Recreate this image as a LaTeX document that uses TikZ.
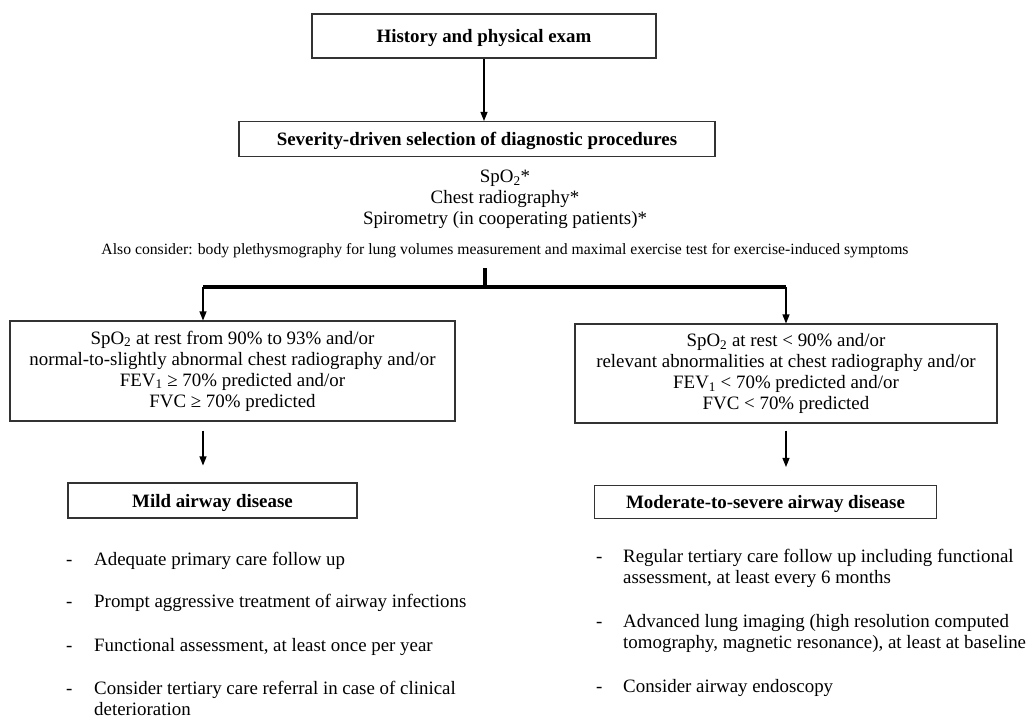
\documentclass[tikz,border=0pt]{standalone}
\usepackage{fontspec}
\setmainfont{Liberation Serif}
\usetikzlibrary{arrows.meta}
\newcommand{\bodyfont}{\fontsize{18.9}{21}\selectfont}
\tikzset{
  box/.style={draw=black!80, line width=1.1pt, inner sep=0pt, align=center,
    execute at begin node={\rule{0pt}{18pt}}},
  arr/.style={-{Triangle[length=9pt,width=7pt]}, line width=1.1pt},
  bar/.style={line width=3.5pt},
  item/.style={anchor=base west, inner sep=0pt, align=left},
}
\begin{document}
\begin{tikzpicture}[x=1pt,y=-1pt,font=\bodyfont]
  \useasboundingbox (0,0) rectangle (1028,718);
  \draw
    (484,36) node[box,minimum width=344,minimum height=44,font=\bodyfont\bfseries] (hist){History and physical exam}
    (477,139) node[box,minimum width=476,minimum height=35,font=\bodyfont\bfseries] (sev){Severity-driven selection of diagnostic procedures}
    (505,199) node[align=center,inner sep=0pt] (tests){SpO\textsubscript{2}*\\Chest radiography*\\Spirometry (in cooperating patients)*}
    (505,251) node[inner sep=0pt,font=\fontsize{15.7}{18}\selectfont] (also){Also consider: body plethysmography for lung volumes measurement and maximal exercise test for exercise-induced symptoms}
    (232.5,371) node[box,minimum width=445,minimum height=100] (mildcrit){SpO\textsubscript{2} at rest from 90\% to 93\% and/or\\normal-to-slightly abnormal chest radiography and/or\\FEV\textsubscript{1} ≥ 70\% predicted and/or\\FVC ≥ 70\% predicted}
    (786,373.5) node[box,minimum width=422,minimum height=99] (sevcrit){SpO\textsubscript{2} at rest < 90\% and/or\\relevant abnormalities at chest radiography and/or\\FEV\textsubscript{1} < 70\% predicted and/or\\FVC < 70\% predicted}
    (212.5,500.5) node[box,minimum width=289,minimum height=35,font=\bodyfont\bfseries] (mild){Mild airway disease}
    (765.5,502) node[box,minimum width=342,minimum height=33,font=\bodyfont\bfseries] (modsev){Moderate-to-severe airway disease};
  \coordinate (stub) at (485,268);
  \coordinate (fork) at (485,287);
  \coordinate (forkL) at (203,287);
  \coordinate (forkR) at (786,287);
  \draw
    (66,565) node[item] (dm1){-}
    (94,565) node[item] (m1){Adequate primary care follow up}
    (66,607) node[item] (dm2){-}
    (94,607) node[item] (m2){Prompt aggressive treatment of airway infections}
    (66,651) node[item] (dm3){-}
    (94,651) node[item] (m3){Functional assessment, at least once per year}
    (66,694) node[item] (dm4){-}
    (94,715) node[item] (m4){Consider tertiary care referral in case of clinical\\deterioration}
    (596,562) node[item] (ds1){-}
    (623,583) node[item] (s1){Regular tertiary care follow up including functional\\assessment, at least every 6 months}
    (596,627) node[item] (ds2){-}
    (623,648) node[item] (s2){Advanced lung imaging (high resolution computed\\tomography, magnetic resonance), at least at baseline}
    (596,692) node[item] (ds3){-}
    (623,692) node[item] (s3){Consider airway endoscopy};
  \begin{scope}[arr]
    \draw (hist.south) to (hist.south |- sev.north);
    \draw (forkL) to (mildcrit.north -| forkL);
    \draw (forkR) to (sevcrit.north -| forkR);
    \draw[shorten <=9pt,shorten >=17pt] (mildcrit.south -| forkL) to (mild.north -| forkL);
    \draw[shorten <=7pt,shorten >=18pt] (sevcrit.south -| forkR) to (modsev.north -| forkR);
  \end{scope}
  \begin{scope}[bar]
    \draw (stub) to (fork);
    \draw (forkL) to (forkR);
  \end{scope}
\end{tikzpicture}
\end{document}
